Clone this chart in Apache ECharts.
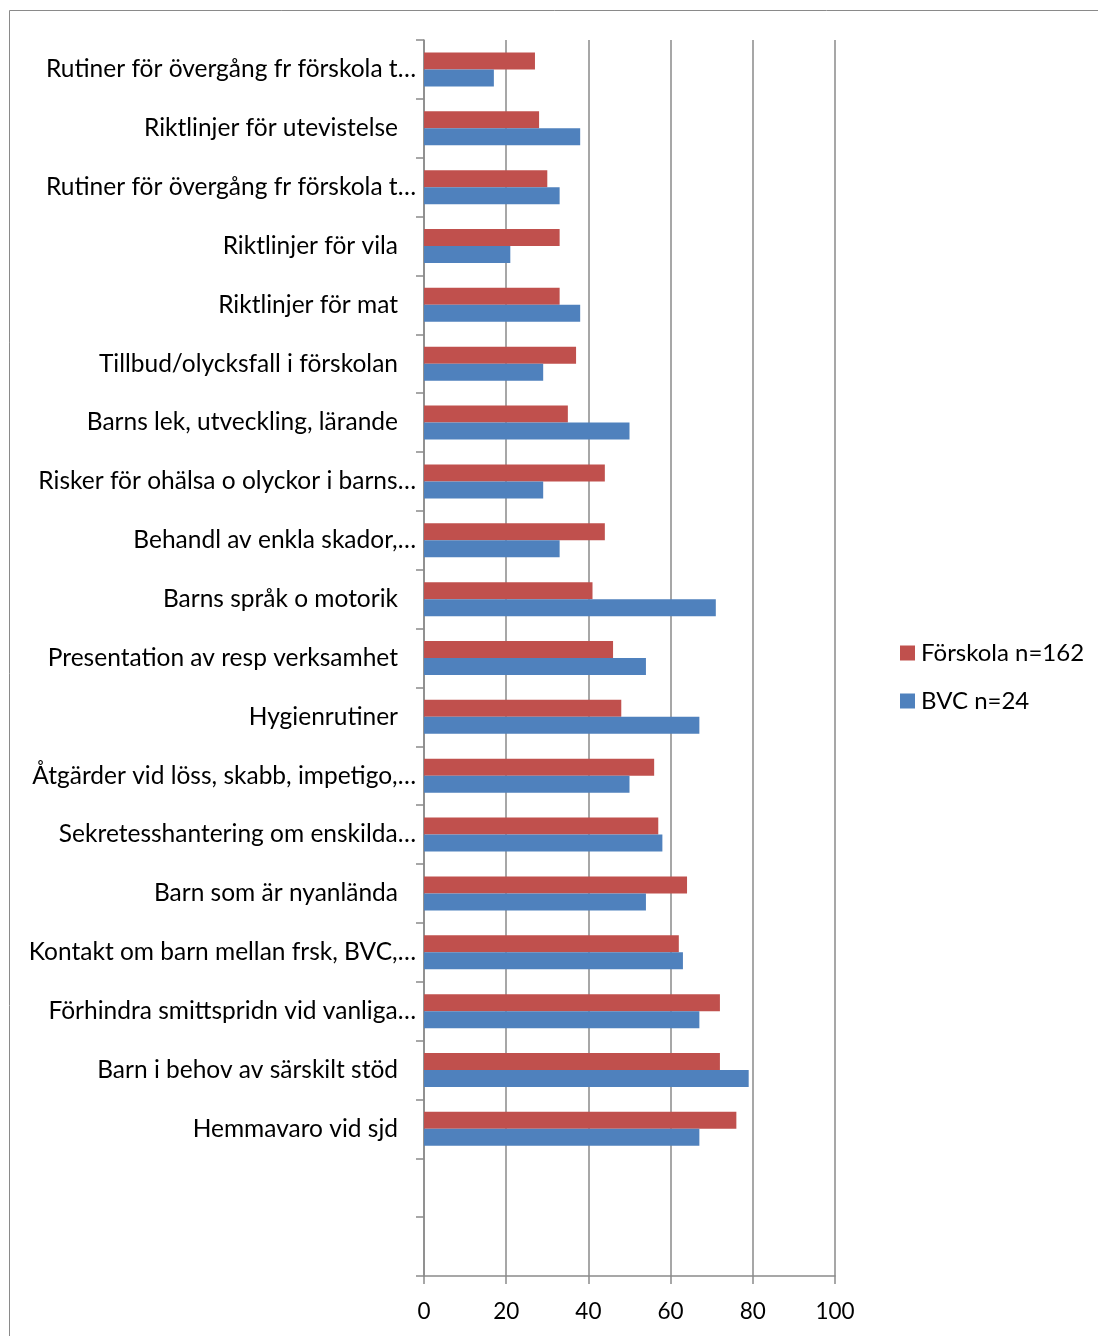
<!DOCTYPE html>
<html>
<head>
<meta charset="utf-8">
<script src="https://cdn.jsdelivr.net/npm/echarts@6/dist/echarts.min.js"></script>
<style>
  html, body { margin: 0; padding: 0; background: #fff; }
  #chart { width: 1098px; height: 1336px; }
</style>
</head>
<body>
<div id="chart"></div>
<script>
// categories top to bottom (two empty slots at the end, as in the original)
var categories = [
  'Rutiner för övergång fr förskola t…',
  'Riktlinjer för utevistelse',
  'Rutiner för övergång fr förskola t…',
  'Riktlinjer för vila',
  'Riktlinjer för mat',
  'Tillbud/olycksfall i förskolan',
  'Barns lek, utveckling, lärande',
  'Risker för ohälsa o olyckor i barns…',
  'Behandl av enkla skador,…',
  'Barns språk o motorik',
  'Presentation av resp verksamhet',
  'Hygienrutiner',
  'Åtgärder vid löss, skabb, impetigo,…',
  'Sekretesshantering om enskilda…',
  'Barn som är nyanlända',
  'Kontakt om barn mellan frsk, BVC,…',
  'Förhindra smittspridn vid vanliga…',
  'Barn i behov av särskilt stöd',
  'Hemmavaro vid sjd',
  '',
  ''
]
var forskola = [27, 28, 30, 33, 33, 37, 35, 44, 44, 41, 46, 48, 56, 57, 64, 62, 72, 72, 76, null, null]
var bvc = [17, 38, 33, 21, 38, 29, 50, 29, 33, 71, 54, 67, 50, 58, 54, 63, 67, 79, 67, null, null]
var valueTicks = [0, 20, 40, 60, 80, 100]

var seriesNames = ['Förskola n=162', 'BVC n=24']
var colors = ['#c0504d', '#4f81bd']

var font = 'Lato, "Open Sans", sans-serif'
var lineColor = '#8a8a8a'

let myChart = echarts.init(document.getElementById('chart'))
let option = {
  animation: false,
  textStyle: { fontFamily: font },
  graphic: [{
    type: 'rect',
    shape: { x: 9.5, y: 10.5, width: 1300, height: 1500 },
    style: { fill: 'none', stroke: '#8a8a8a', lineWidth: 1 },
    silent: true
  }],
  legend: {
    orient: 'vertical',
    left: 895,
    top: 636,
    itemWidth: 15,
    itemHeight: 15,
    itemGap: 24,
    icon: 'rect',
    data: seriesNames,
    textStyle: { fontFamily: font, fontSize: 24, lineHeight: 24, color: '#000', padding: [0, 0, 0, 1] }
  },
  grid: {
    left: 424,
    right: 263,
    top: 40,
    bottom: 60,
    containLabel: false
  },
  xAxis: {
    type: 'value',
    min: 0,
    max: 100,
    interval: 20,
    axisLine: { show: true, lineStyle: { color: lineColor, width: 1.5 } },
    axisTick: { show: true, length: 8, lineStyle: { color: lineColor, width: 1.5 } },
    axisLabel: {
      color: '#000',
      fontSize: 22.5,
      fontFamily: font,
      margin: 24,
      formatter: function (v) { return valueTicks.indexOf(v) >= 0 ? String(v) : '' }
    },
    splitLine: { show: true, lineStyle: { color: lineColor, width: 1.5 } }
  },
  yAxis: {
    type: 'category',
    inverse: true,
    data: categories,
    axisLine: { show: true, lineStyle: { color: lineColor, width: 1.5 } },
    axisTick: { show: true, length: 8, interval: 0, lineStyle: { color: lineColor, width: 1.5 } },
    axisLabel: {
      interval: 0,
      color: '#000',
      fontSize: 24.5,
      fontFamily: font,
      margin: 8,
      formatter: function (v) {
        return v.slice(-1) === '…' ? v : v + '{s|}'
      },
      rich: { s: { width: 18 } }
    }
  },
  series: [{
    name: seriesNames[0],
    type: 'bar',
    data: forskola,
    barWidth: 17,
    barGap: '0%',
    itemStyle: { color: colors[0] }
  }, {
    name: seriesNames[1],
    type: 'bar',
    data: bvc,
    barWidth: 17,
    barGap: '0%',
    itemStyle: { color: colors[1] }
  }]
}
myChart.setOption(option)
</script>
</body>
</html>
